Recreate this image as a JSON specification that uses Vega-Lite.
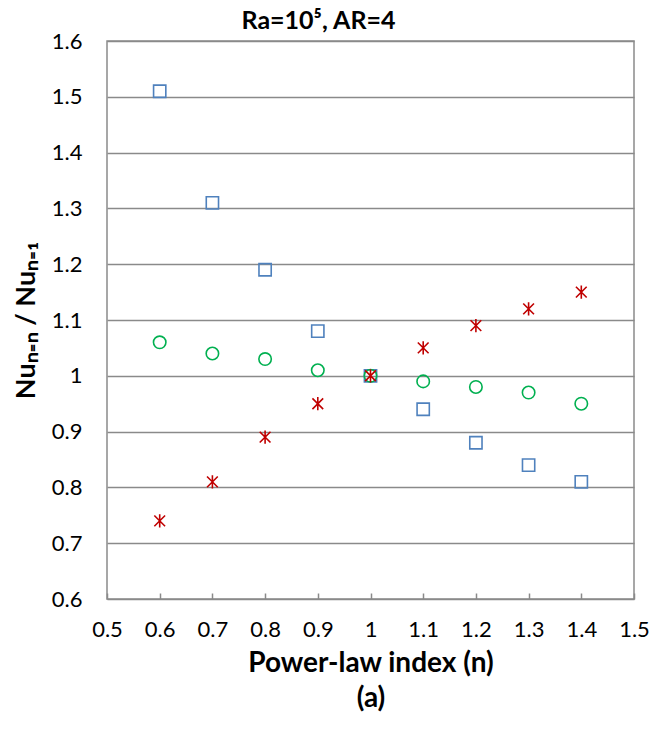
{
  "$schema": "https://vega.github.io/schema/vega-lite/v6.json",
  "width": 527,
  "height": 558,
  "autosize": {"type": "none"},
  "padding": {"left": 107, "top": 41, "right": 19, "bottom": 137},
  "background": "white",
  "title": {
    "text": "Ra=10⁵, AR=4",
    "font": "Lato",
    "fontWeight": "bold",
    "fontSize": 25,
    "color": "black",
    "anchor": "middle",
    "dx": -52,
    "dy": 4,
    "offset": 0
  },
  "data": {
    "values": [
      {"n": 0.6, "ratio": 1.51, "series": "A"},
      {"n": 0.7, "ratio": 1.31, "series": "A"},
      {"n": 0.8, "ratio": 1.19, "series": "A"},
      {"n": 0.9, "ratio": 1.08, "series": "A"},
      {"n": 1.0, "ratio": 1.00, "series": "A"},
      {"n": 1.1, "ratio": 0.94, "series": "A"},
      {"n": 1.2, "ratio": 0.88, "series": "A"},
      {"n": 1.3, "ratio": 0.84, "series": "A"},
      {"n": 1.4, "ratio": 0.81, "series": "A"},
      {"n": 0.6, "ratio": 1.06, "series": "B"},
      {"n": 0.7, "ratio": 1.04, "series": "B"},
      {"n": 0.8, "ratio": 1.03, "series": "B"},
      {"n": 0.9, "ratio": 1.01, "series": "B"},
      {"n": 1.0, "ratio": 1.00, "series": "B"},
      {"n": 1.1, "ratio": 0.99, "series": "B"},
      {"n": 1.2, "ratio": 0.98, "series": "B"},
      {"n": 1.3, "ratio": 0.97, "series": "B"},
      {"n": 1.4, "ratio": 0.95, "series": "B"},
      {"n": 0.6, "ratio": 0.74, "series": "C"},
      {"n": 0.7, "ratio": 0.81, "series": "C"},
      {"n": 0.8, "ratio": 0.89, "series": "C"},
      {"n": 0.9, "ratio": 0.95, "series": "C"},
      {"n": 1.0, "ratio": 1.00, "series": "C"},
      {"n": 1.1, "ratio": 1.05, "series": "C"},
      {"n": 1.2, "ratio": 1.09, "series": "C"},
      {"n": 1.3, "ratio": 1.12, "series": "C"},
      {"n": 1.4, "ratio": 1.15, "series": "C"}
    ]
  },
  "mark": {"type": "point", "filled": false, "strokeWidth": 1.6, "opacity": 1},
  "encoding": {
    "x": {
      "field": "n",
      "type": "quantitative",
      "scale": {"domain": [0.5, 1.5], "nice": false, "zero": false},
      "axis": {
        "values": [0.5, 0.6, 0.7, 0.8, 0.9, 1.0, 1.1, 1.2, 1.3, 1.4, 1.5],
        "labelExpr": "format(datum.value, '.1~f')",
        "domain": false,
        "grid": false,
        "ticks": true,
        "tickSize": -6,
        "tickColor": "#8a8a8a",
        "tickWidth": 1.5,
        "labelFont": "Lato",
        "labelFontSize": 22,
        "labelColor": "black",
        "labelPadding": 26,
        "labelFlush": false,
        "title": ["Power-law index (n)", "(a)"],
        "titleFont": "Lato",
        "titleFontSize": 28,
        "titleFontWeight": "bold",
        "titleColor": "black",
        "titleLineHeight": 35,
        "titlePadding": 9
      }
    },
    "y": {
      "field": "ratio",
      "type": "quantitative",
      "scale": {"domain": [0.6, 1.6], "nice": false, "zero": false},
      "axis": {
        "values": [0.6, 0.7, 0.8, 0.9, 1.0, 1.1, 1.2, 1.3, 1.4, 1.5, 1.6],
        "labelExpr": "format(datum.value, '.1~f')",
        "domain": false,
        "ticks": false,
        "grid": true,
        "gridColor": "#8a8a8a",
        "gridWidth": 1.5,
        "labelFont": "Lato",
        "labelFontSize": 22,
        "labelColor": "black",
        "labelPadding": 25,
        "labelFlush": false,
        "title": "Nuₙ₌ₙ / Nuₙ₌₁",
        "titleFont": "Lato",
        "titleFontSize": 27,
        "titleFontWeight": "bold",
        "titleColor": "black",
        "titleAngle": -90,
        "titleX": -81,
        "titleY": 279,
        "titleAlign": "center",
        "titleBaseline": "middle"
      }
    },
    "shape": {
      "field": "series",
      "type": "nominal",
      "scale": {
        "domain": ["A", "B", "C"],
        "range": ["square", "circle", "M-0.85,-0.85L0.85,0.85M0.85,-0.85L-0.85,0.85M0,-1.05L0,1.05"]
      },
      "legend": null
    },
    "color": {
      "field": "series",
      "type": "nominal",
      "scale": {"domain": ["A", "B", "C"], "range": ["#4f81bd", "#00b050", "#c00000"]},
      "legend": null
    },
    "size": {
      "field": "series",
      "type": "nominal",
      "scale": {"domain": ["A", "B", "C"], "range": [150, 160, 200]},
      "legend": null
    }
  },
  "config": {
    "view": {"stroke": "#8a8a8a", "strokeWidth": 1.5}
  }
}
